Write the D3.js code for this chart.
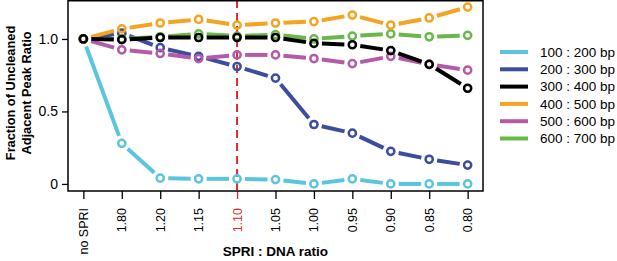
<!DOCTYPE html>
<html lang="en">
<head>
  <meta charset="UTF-8">
  <title>SPRI ratio</title>
  <script src="https://d3js.org/d3.v7.min.js"></script>
  <style>
    body { margin: 0; background: #fff; }
    svg text { font-family: "Liberation Sans", Arial, Helvetica, sans-serif; }
  </style>
</head>
<body>
  <div class="canvas"></div>
  <script>
    // data
    const ratios = ['no SPRI', '1.80', '1.20', '1.15', '1.10', '1.05', '1.00', '0.95', '0.90', '0.85', '0.80'];
    const seriesNames = ['100 : 200 bp', '200 : 300 bp', '300 : 400 bp', '400 : 500 bp', '500 : 600 bp', '600 : 700 bp'];
    const seriesColors = ['#5bc4de', '#3a4d9f', '#000000', '#f5a320', '#b55aa9', '#6ab84a'];
    const bp100 = [1.00, 0.28, 0.04, 0.035, 0.035, 0.03, 0.00, 0.035, 0.00, 0.00, 0.00];
    const bp200 = [1.00, 1.04, 0.94, 0.88, 0.81, 0.73, 0.41, 0.35, 0.225, 0.17, 0.13];
    const bp300 = [1.00, 0.995, 1.01, 1.01, 1.01, 1.01, 0.97, 0.96, 0.92, 0.825, 0.66];
    const bp400 = [1.00, 1.07, 1.11, 1.135, 1.095, 1.11, 1.12, 1.165, 1.095, 1.145, 1.22];
    const bp500 = [1.00, 0.925, 0.90, 0.865, 0.89, 0.89, 0.865, 0.83, 0.88, 0.825, 0.785];
    const bp600 = [1.00, 1.00, 1.015, 1.035, 1.02, 1.03, 1.00, 1.02, 1.035, 1.015, 1.025];
    const yTicks = [0, 0.5, 1.0];
    const yTickLabels = ['0', '0.5', '1.0'];
    const markedRatio = '1.10';

    const values = [bp100, bp200, bp300, bp400, bp500, bp600];
    const drawOrder = [0, 1, 4, 5, 3, 2];

    const width = 617;
    const height = 261;
    const [mt, mb, ml, mr] = [0, 70, 68, 134];

    const svg = d3.select('.canvas')
                  .append('svg')
                  .attr('width', width)
                  .attr('height', height);

    // R-style 4% padding on both scales
    const xPad = (ratios.length - 1) * 0.04;
    const x = d3.scaleLinear()
                .domain([-xPad, ratios.length - 1 + xPad])
                .range([ml, width - mr]);

    const yMax = d3.max(values, s => d3.max(s));
    const yMin = d3.min(values, s => d3.min(s));
    const yPad = (yMax - yMin) * 0.04;
    const y = d3.scaleLinear()
                .domain([yMin - yPad, yMax + yPad])
                .range([height - mb, mt]);

    const plotBottom = height - mb;

    // axes
    const xAxis = d3.axisBottom(x)
                    .tickValues(d3.range(ratios.length))
                    .tickFormat(i => ratios[i])
                    .tickSize(8)
                    .tickSizeOuter(0);
    const xAxisG = svg.append('g')
                      .attr('transform', `translate(0, ${plotBottom})`)
                      .call(xAxis);
    xAxisG.select('.domain').remove();
    xAxisG.selectAll('line').attr('stroke', '#000').attr('stroke-width', 1.3);
    xAxisG.selectAll('text')
          .attr('font-size', 12.5)
          .attr('fill', d => ratios[d] === markedRatio ? '#d92b2b' : '#000')
          .attr('text-anchor', 'end')
          .attr('dy', null)
          .attr('y', null)
          .attr('dominant-baseline', 'central')
          .attr('transform', 'translate(0, 17) rotate(-90)');
    xAxisG.selectAll('.tick')
          .filter(d => ratios[d] === markedRatio)
          .select('line').attr('stroke', '#d92b2b');

    const yAxis = d3.axisLeft(y)
                    .tickValues(yTicks)
                    .tickFormat((d, i) => yTickLabels[i])
                    .tickSize(6)
                    .tickPadding(4);
    const yAxisG = svg.append('g')
                      .attr('transform', `translate(${ml}, 0)`)
                      .call(yAxis);
    yAxisG.select('.domain').remove();
    yAxisG.selectAll('line').attr('stroke', '#000').attr('stroke-width', 1.3);
    yAxisG.selectAll('text').attr('font-size', 14).attr('fill', '#000');

    // marked ratio
    const mi = ratios.indexOf(markedRatio);
    svg.append('line')
       .attr('x1', x(mi)).attr('x2', x(mi))
       .attr('y1', mt).attr('y2', plotBottom)
       .attr('stroke', '#d92b2b')
       .attr('stroke-width', 2)
       .attr('stroke-dasharray', '8,5');

    // series: R type="b" -> segments with gaps round the points
    const r = 3.6;
    const gap = 8;
    drawOrder.forEach(si => {
      const s = values[si];
      const g = svg.append('g');
      const segs = d3.pairs(s.map((v, i) => [x(i), y(v)]));
      g.selectAll('line')
       .data(segs)
       .enter()
       .append('line')
       .each(function([a, b]) {
         const dx = b[0] - a[0], dy = b[1] - a[1];
         const len = Math.hypot(dx, dy);
         const ux = dx / len, uy = dy / len;
         d3.select(this)
           .attr('x1', a[0] + ux * gap).attr('y1', a[1] + uy * gap)
           .attr('x2', b[0] - ux * gap).attr('y2', b[1] - uy * gap);
       })
       .attr('stroke', seriesColors[si])
       .attr('stroke-width', 4);
      g.selectAll('circle')
       .data(s)
       .enter()
       .append('circle')
       .attr('cx', (d, i) => x(i))
       .attr('cy', d => y(d))
       .attr('r', r)
       .attr('fill', 'none')
       .attr('stroke', seriesColors[si])
       .attr('stroke-width', 2.5);
    });

    // plot box
    svg.append('rect')
       .attr('x', ml).attr('y', mt + 0.75)
       .attr('width', width - mr - ml)
       .attr('height', plotBottom - mt - 0.75)
       .attr('fill', 'none')
       .attr('stroke', '#000')
       .attr('stroke-width', 1.5);

    // titles
    svg.append('text')
       .attr('x', (ml + width - mr) / 2)
       .attr('y', 256)
       .attr('text-anchor', 'middle')
       .attr('font-size', 13.5)
       .attr('font-weight', 'bold')
       .text('SPRI : DNA ratio');

    const yTitle = svg.append('text')
                      .attr('transform', 'translate(0, 93) rotate(-90)')
                      .attr('text-anchor', 'middle')
                      .attr('font-size', 12.8)
                      .attr('font-weight', 'bold');
    yTitle.append('tspan').attr('x', 0).attr('y', 15).text('Fraction of Uncleaned');
    yTitle.append('tspan').attr('x', 0).attr('y', 31).text('Adjacent Peak Ratio');

    // legend
    const legend = svg.append('g').attr('transform', 'translate(500, 52)');
    const rows = legend.selectAll('g')
                       .data(seriesNames)
                       .enter()
                       .append('g')
                       .attr('transform', (d, i) => `translate(0, ${i * 17.3})`);
    rows.append('line')
        .attr('x1', 0).attr('x2', 28)
        .attr('stroke', (d, i) => seriesColors[i])
        .attr('stroke-width', 4);
    rows.append('text')
        .attr('x', 40)
        .attr('dy', '0.36em')
        .attr('font-size', 13.5)
        .text(d => d);
  </script>
</body>
</html>
